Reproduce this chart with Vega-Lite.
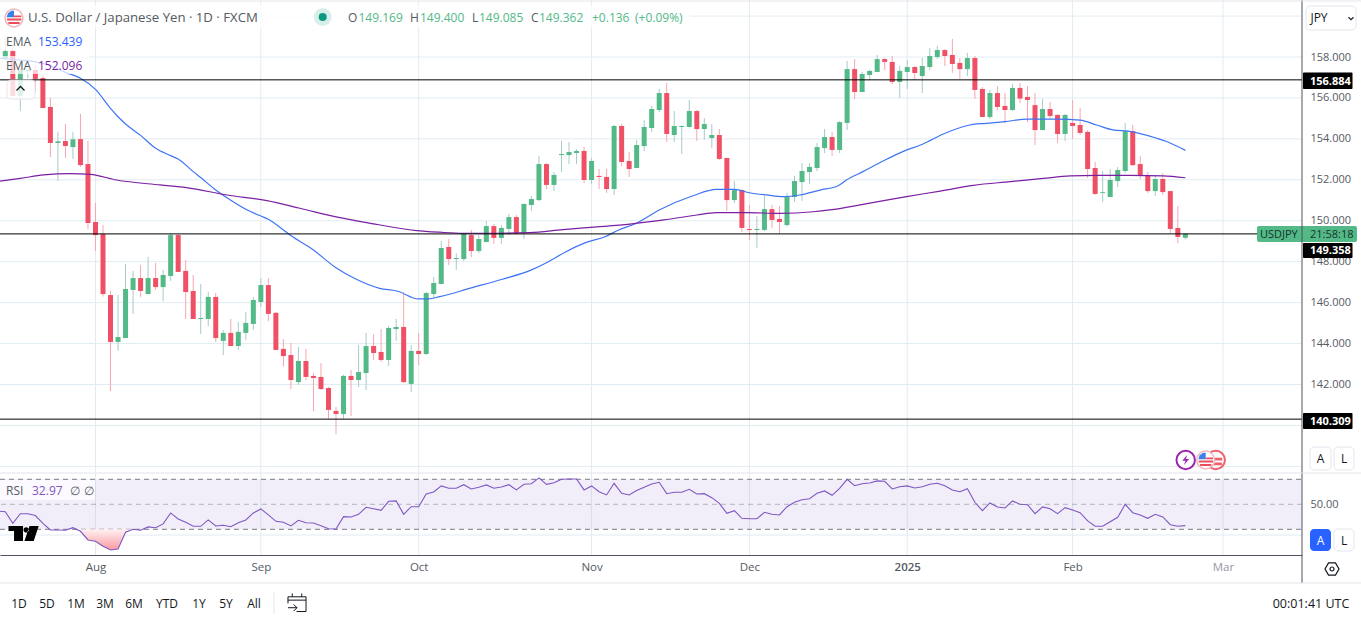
{
"$schema":"https://vega.github.io/schema/vega-lite/v6.json",
"width":1302,"height":555,
"autosize":{"type":"none"},
"padding":{"left":0,"top":0,"right":59,"bottom":66},
"background":"#ffffff",
"config":{"view":{"stroke":null},"font":"Open Sans","text":{"font":"Open Sans"}},
"datasets":{
"candles":[
{"bar":0,"open":157.90,"high":158.99,"low":157.90,"close":158.29},
{"bar":1,"open":158.29,"high":158.59,"low":156.10,"close":156.10},
{"bar":2,"open":156.10,"high":157.40,"low":155.36,"close":157.37},
{"bar":3,"open":157.30,"high":157.45,"low":156.96,"close":157.37},
{"bar":4,"open":157.37,"high":157.61,"low":156.31,"close":156.93},
{"bar":5,"open":156.97,"high":157.07,"low":155.51,"close":155.51},
{"bar":6,"open":155.56,"high":156.00,"low":153.11,"close":153.80},
{"bar":7,"open":153.80,"high":154.34,"low":151.94,"close":153.88},
{"bar":8,"open":153.90,"high":154.73,"low":153.07,"close":153.65},
{"bar":9,"open":153.60,"high":154.34,"low":153.02,"close":153.98},
{"bar":10,"open":153.99,"high":155.22,"low":152.63,"close":152.72},
{"bar":11,"open":152.77,"high":153.90,"low":149.60,"close":149.89},
{"bar":12,"open":149.94,"high":150.87,"low":148.52,"close":149.30},
{"bar":13,"open":149.35,"high":149.79,"low":146.30,"close":146.42},
{"bar":14,"open":146.37,"high":146.57,"low":141.68,"close":144.08},
{"bar":15,"open":144.08,"high":146.37,"low":143.64,"close":144.32},
{"bar":16,"open":144.27,"high":147.89,"low":144.27,"close":146.67},
{"bar":17,"open":146.62,"high":147.55,"low":145.45,"close":147.20},
{"bar":18,"open":147.20,"high":147.84,"low":146.28,"close":146.57},
{"bar":19,"open":146.42,"high":148.23,"low":146.42,"close":147.20},
{"bar":20,"open":147.20,"high":147.94,"low":146.62,"close":146.76},
{"bar":21,"open":146.76,"high":147.59,"low":146.08,"close":147.35},
{"bar":22,"open":147.30,"high":149.40,"low":147.06,"close":149.30},
{"bar":23,"open":149.30,"high":149.35,"low":147.50,"close":147.50},
{"bar":24,"open":147.55,"high":148.08,"low":145.20,"close":146.52},
{"bar":25,"open":146.57,"high":147.35,"low":145.20,"close":145.20},
{"bar":26,"open":145.20,"high":146.91,"low":144.47,"close":145.25},
{"bar":27,"open":145.20,"high":146.52,"low":144.86,"close":146.28},
{"bar":28,"open":146.28,"high":146.47,"low":144.08,"close":144.27},
{"bar":29,"open":144.13,"high":144.66,"low":143.44,"close":144.52},
{"bar":30,"open":144.52,"high":145.20,"low":143.88,"close":143.88},
{"bar":31,"open":143.88,"high":145.05,"low":143.69,"close":144.57},
{"bar":32,"open":144.52,"high":145.54,"low":144.17,"close":145.01},
{"bar":33,"open":144.96,"high":146.28,"low":144.66,"close":146.13},
{"bar":34,"open":146.03,"high":147.20,"low":145.79,"close":146.86},
{"bar":35,"open":146.86,"high":147.20,"low":145.10,"close":145.45},
{"bar":36,"open":145.50,"high":145.54,"low":143.69,"close":143.69},
{"bar":37,"open":143.74,"high":144.22,"low":142.88,"close":143.39},
{"bar":38,"open":143.44,"high":144.03,"low":141.78,"close":142.22},
{"bar":39,"open":142.12,"high":143.83,"low":141.98,"close":143.15},
{"bar":40,"open":143.15,"high":143.74,"low":142.22,"close":142.37},
{"bar":41,"open":142.42,"high":142.56,"low":140.70,"close":142.32},
{"bar":42,"open":142.37,"high":143.05,"low":141.73,"close":141.78},
{"bar":43,"open":141.83,"high":141.88,"low":140.32,"close":140.76},
{"bar":44,"open":140.71,"high":140.90,"low":139.58,"close":140.56},
{"bar":45,"open":140.56,"high":142.47,"low":140.32,"close":142.42},
{"bar":46,"open":142.42,"high":142.71,"low":140.46,"close":142.22},
{"bar":47,"open":142.22,"high":143.93,"low":141.88,"close":142.61},
{"bar":48,"open":142.56,"high":144.52,"low":141.73,"close":143.88},
{"bar":49,"open":143.88,"high":144.47,"low":143.20,"close":143.54},
{"bar":50,"open":143.59,"high":144.71,"low":143.10,"close":143.20},
{"bar":51,"open":143.20,"high":144.86,"low":142.91,"close":144.76},
{"bar":52,"open":144.71,"high":145.20,"low":144.13,"close":144.81},
{"bar":53,"open":144.81,"high":146.52,"low":142.07,"close":142.12},
{"bar":54,"open":142.03,"high":143.93,"low":141.63,"close":143.64},
{"bar":55,"open":143.64,"high":144.52,"low":142.95,"close":143.49},
{"bar":56,"open":143.49,"high":146.52,"low":143.44,"close":146.47},
{"bar":57,"open":146.42,"high":147.25,"low":146.23,"close":146.96},
{"bar":58,"open":146.91,"high":149.01,"low":146.91,"close":148.67},
{"bar":59,"open":148.72,"high":149.11,"low":147.84,"close":148.13},
{"bar":60,"open":148.13,"high":148.41,"low":147.60,"close":148.18},
{"bar":61,"open":148.13,"high":149.39,"low":148.03,"close":149.35},
{"bar":62,"open":149.30,"high":149.55,"low":148.23,"close":148.52},
{"bar":63,"open":148.52,"high":149.30,"low":148.42,"close":149.11},
{"bar":64,"open":148.96,"high":149.99,"low":148.96,"close":149.74},
{"bar":65,"open":149.74,"high":149.84,"low":148.87,"close":149.16},
{"bar":66,"open":149.16,"high":149.79,"low":148.87,"close":149.65},
{"bar":67,"open":149.60,"high":150.33,"low":149.30,"close":150.18},
{"bar":68,"open":150.18,"high":150.28,"low":149.30,"close":149.40},
{"bar":69,"open":149.40,"high":150.85,"low":149.11,"close":150.82},
{"bar":70,"open":150.77,"high":151.21,"low":150.48,"close":151.06},
{"bar":71,"open":151.01,"high":153.17,"low":150.96,"close":152.77},
{"bar":72,"open":152.77,"high":152.82,"low":151.55,"close":151.75},
{"bar":73,"open":151.75,"high":152.38,"low":151.45,"close":152.24},
{"bar":74,"open":153.21,"high":153.90,"low":152.38,"close":153.26},
{"bar":75,"open":153.21,"high":153.85,"low":152.77,"close":153.36},
{"bar":76,"open":153.31,"high":153.50,"low":152.77,"close":153.41},
{"bar":77,"open":153.41,"high":153.60,"low":151.84,"close":151.99},
{"bar":78,"open":151.99,"high":153.07,"low":151.80,"close":152.92},
{"bar":79,"open":152.19,"high":152.53,"low":151.55,"close":152.14},
{"bar":80,"open":152.14,"high":152.53,"low":151.36,"close":151.55},
{"bar":81,"open":151.55,"high":154.68,"low":151.26,"close":154.63},
{"bar":82,"open":154.63,"high":154.73,"low":152.67,"close":152.87},
{"bar":83,"open":152.92,"high":153.36,"low":152.14,"close":152.53},
{"bar":84,"open":152.58,"high":153.95,"low":152.58,"close":153.70},
{"bar":85,"open":153.65,"high":154.92,"low":153.41,"close":154.58},
{"bar":86,"open":154.53,"high":155.61,"low":154.34,"close":155.46},
{"bar":87,"open":155.41,"high":156.44,"low":155.31,"close":156.24},
{"bar":88,"open":156.24,"high":156.73,"low":153.85,"close":154.24},
{"bar":89,"open":154.19,"high":155.36,"low":153.85,"close":154.63},
{"bar":90,"open":154.58,"high":154.66,"low":153.26,"close":154.63},
{"bar":91,"open":154.58,"high":155.90,"low":154.55,"close":155.36},
{"bar":92,"open":155.36,"high":155.41,"low":153.90,"close":154.48},
{"bar":93,"open":154.48,"high":155.02,"low":153.95,"close":154.73},
{"bar":94,"open":154.04,"high":154.73,"low":153.55,"close":154.19},
{"bar":95,"open":154.19,"high":154.48,"low":152.97,"close":153.02},
{"bar":96,"open":153.07,"high":153.07,"low":150.48,"close":151.01},
{"bar":97,"open":151.01,"high":151.94,"low":150.87,"close":151.50},
{"bar":98,"open":151.50,"high":151.53,"low":149.45,"close":149.65},
{"bar":99,"open":149.60,"high":150.77,"low":149.06,"close":149.55},
{"bar":100,"open":149.55,"high":150.23,"low":148.67,"close":149.60},
{"bar":101,"open":149.55,"high":151.21,"low":149.50,"close":150.57},
{"bar":102,"open":150.57,"high":150.77,"low":149.65,"close":150.04},
{"bar":103,"open":150.09,"high":150.72,"low":149.35,"close":149.94},
{"bar":104,"open":149.79,"high":151.36,"low":149.70,"close":151.21},
{"bar":105,"open":151.16,"high":152.19,"low":150.92,"close":151.94},
{"bar":106,"open":151.89,"high":152.82,"low":150.97,"close":152.43},
{"bar":107,"open":152.38,"high":152.82,"low":151.80,"close":152.63},
{"bar":108,"open":152.58,"high":153.80,"low":152.43,"close":153.60},
{"bar":109,"open":153.55,"high":154.48,"low":153.31,"close":154.09},
{"bar":110,"open":154.09,"high":154.34,"low":153.17,"close":153.46},
{"bar":111,"open":153.46,"high":154.87,"low":153.31,"close":154.82},
{"bar":112,"open":154.78,"high":157.81,"low":154.43,"close":157.41},
{"bar":113,"open":157.41,"high":157.90,"low":155.95,"close":156.29},
{"bar":114,"open":156.29,"high":157.27,"low":156.29,"close":157.17},
{"bar":115,"open":157.12,"high":157.37,"low":156.88,"close":157.32},
{"bar":116,"open":157.27,"high":158.10,"low":157.27,"close":157.90},
{"bar":117,"open":157.90,"high":157.95,"low":157.36,"close":157.76},
{"bar":118,"open":157.76,"high":158.05,"low":156.68,"close":156.78},
{"bar":119,"open":156.78,"high":157.56,"low":155.99,"close":157.32},
{"bar":120,"open":157.27,"high":157.85,"low":156.44,"close":157.51},
{"bar":121,"open":157.51,"high":157.56,"low":156.88,"close":157.22},
{"bar":122,"open":157.07,"high":157.95,"low":156.24,"close":157.56},
{"bar":123,"open":157.51,"high":158.44,"low":157.36,"close":158.05},
{"bar":124,"open":158.00,"high":158.54,"low":157.90,"close":158.34},
{"bar":125,"open":158.34,"high":158.39,"low":157.56,"close":158.05},
{"bar":126,"open":158.10,"high":158.88,"low":157.22,"close":157.66},
{"bar":127,"open":157.71,"high":157.95,"low":156.92,"close":157.41},
{"bar":128,"open":157.41,"high":158.20,"low":157.07,"close":157.95},
{"bar":129,"open":157.95,"high":158.05,"low":155.95,"close":156.39},
{"bar":130,"open":156.44,"high":156.53,"low":155.07,"close":155.07},
{"bar":131,"open":155.07,"high":156.39,"low":154.97,"close":156.24},
{"bar":132,"open":156.24,"high":156.58,"low":155.41,"close":155.56},
{"bar":133,"open":155.61,"high":156.24,"low":154.78,"close":155.41},
{"bar":134,"open":155.41,"high":156.68,"low":155.36,"close":156.49},
{"bar":135,"open":156.49,"high":156.73,"low":155.75,"close":155.97},
{"bar":136,"open":156.05,"high":156.58,"low":154.82,"close":155.90},
{"bar":137,"open":155.65,"high":156.24,"low":153.70,"close":154.43},
{"bar":138,"open":154.43,"high":155.95,"low":154.43,"close":155.46},
{"bar":139,"open":155.46,"high":155.80,"low":155.02,"close":155.12},
{"bar":140,"open":155.17,"high":155.21,"low":153.80,"close":154.24},
{"bar":141,"open":154.24,"high":155.21,"low":153.90,"close":155.17},
{"bar":142,"open":154.78,"high":155.90,"low":153.99,"close":154.63},
{"bar":143,"open":154.68,"high":155.51,"low":154.19,"close":154.29},
{"bar":144,"open":154.34,"high":154.43,"low":152.09,"close":152.53},
{"bar":145,"open":152.58,"high":152.87,"low":151.26,"close":151.31},
{"bar":146,"open":151.36,"high":152.43,"low":150.92,"close":151.40},
{"bar":147,"open":151.16,"high":152.53,"low":151.16,"close":151.99},
{"bar":148,"open":151.94,"high":152.63,"low":151.65,"close":152.48},
{"bar":149,"open":152.43,"high":154.78,"low":152.33,"close":154.38},
{"bar":150,"open":154.38,"high":154.68,"low":152.67,"close":152.72},
{"bar":151,"open":152.77,"high":153.16,"low":152.04,"close":152.23},
{"bar":152,"open":152.19,"high":152.38,"low":151.36,"close":151.45},
{"bar":153,"open":151.45,"high":152.23,"low":151.21,"close":152.04},
{"bar":154,"open":152.04,"high":152.33,"low":151.26,"close":151.40},
{"bar":155,"open":151.45,"high":151.45,"low":149.40,"close":149.60},
{"bar":156,"open":149.65,"high":150.72,"low":148.91,"close":149.21},
{"bar":157,"open":149.169,"high":149.400,"low":149.085,"close":149.362}
],
"ema":[
{"series":"EMA 50","bar":-0.7,"value":157.94},{"series":"EMA 50","bar":2,"value":157.85},{"series":"EMA 50","bar":4,"value":157.76},{"series":"EMA 50","bar":6,"value":157.58},{"series":"EMA 50","bar":8,"value":157.25},{"series":"EMA 50","bar":10,"value":156.96},{"series":"EMA 50","bar":12,"value":156.42},{"series":"EMA 50","bar":14,"value":155.49},{"series":"EMA 50","bar":15,"value":155.08},{"series":"EMA 50","bar":16,"value":154.73},{"series":"EMA 50","bar":18,"value":154.17},{"series":"EMA 50","bar":20,"value":153.54},{"series":"EMA 50","bar":22,"value":153.18},{"series":"EMA 50","bar":23,"value":153.02},{"series":"EMA 50","bar":25,"value":152.40},{"series":"EMA 50","bar":26,"value":152.11},{"series":"EMA 50","bar":28,"value":151.50},{"series":"EMA 50","bar":30,"value":151.00},{"series":"EMA 50","bar":32,"value":150.56},{"series":"EMA 50","bar":34,"value":150.23},{"series":"EMA 50","bar":35,"value":150.07},{"series":"EMA 50","bar":37,"value":149.55},{"series":"EMA 50","bar":37.9,"value":149.30},{"series":"EMA 50","bar":41,"value":148.57},{"series":"EMA 50","bar":43.9,"value":147.73},{"series":"EMA 50","bar":46.7,"value":147.14},{"series":"EMA 50","bar":49.8,"value":146.70},{"series":"EMA 50","bar":52.1,"value":146.57},{"series":"EMA 50","bar":55,"value":146.18},{"series":"EMA 50","bar":56.3,"value":146.18},{"series":"EMA 50","bar":57.8,"value":146.29},{"series":"EMA 50","bar":62,"value":146.72},{"series":"EMA 50","bar":66,"value":147.13},{"series":"EMA 50","bar":70,"value":147.60},{"series":"EMA 50","bar":72,"value":147.95},{"series":"EMA 50","bar":74.6,"value":148.49},{"series":"EMA 50","bar":77.2,"value":148.93},{"series":"EMA 50","bar":79.8,"value":149.22},{"series":"EMA 50","bar":81.6,"value":149.55},{"series":"EMA 50","bar":83.9,"value":149.87},{"series":"EMA 50","bar":87,"value":150.53},{"series":"EMA 50","bar":91.4,"value":151.21},{"series":"EMA 50","bar":94.6,"value":151.53},{"series":"EMA 50","bar":97,"value":151.53},{"series":"EMA 50","bar":99,"value":151.37},{"series":"EMA 50","bar":101.3,"value":151.26},{"series":"EMA 50","bar":103.5,"value":151.18},{"series":"EMA 50","bar":105.7,"value":151.26},{"series":"EMA 50","bar":108.4,"value":151.50},{"series":"EMA 50","bar":110.8,"value":151.71},{"series":"EMA 50","bar":111.9,"value":151.99},{"series":"EMA 50","bar":114.1,"value":152.40},{"series":"EMA 50","bar":116.8,"value":152.92},{"series":"EMA 50","bar":119.4,"value":153.38},{"series":"EMA 50","bar":122.1,"value":153.75},{"series":"EMA 50","bar":124.8,"value":154.24},{"series":"EMA 50","bar":128.3,"value":154.68},{"series":"EMA 50","bar":130.5,"value":154.76},{"series":"EMA 50","bar":133,"value":154.84},{"series":"EMA 50","bar":135.9,"value":154.97},{"series":"EMA 50","bar":139.9,"value":154.97},{"series":"EMA 50","bar":143,"value":154.92},{"series":"EMA 50","bar":145.2,"value":154.68},{"series":"EMA 50","bar":147.5,"value":154.43},{"series":"EMA 50","bar":149.4,"value":154.38},{"series":"EMA 50","bar":153.2,"value":154.03},{"series":"EMA 50","bar":154.5,"value":153.87},{"series":"EMA 50","bar":157,"value":153.44},
{"series":"EMA 200","bar":-0.7,"value":151.94},{"series":"EMA 200","bar":2,"value":152.07},{"series":"EMA 200","bar":5.1,"value":152.24},{"series":"EMA 200","bar":8.6,"value":152.30},{"series":"EMA 200","bar":11.3,"value":152.27},{"series":"EMA 200","bar":14.8,"value":151.99},{"series":"EMA 200","bar":20.6,"value":151.75},{"series":"EMA 200","bar":24.1,"value":151.62},{"series":"EMA 200","bar":29.5,"value":151.26},{"series":"EMA 200","bar":34.8,"value":150.98},{"series":"EMA 200","bar":39.2,"value":150.61},{"series":"EMA 200","bar":44.5,"value":150.15},{"series":"EMA 200","bar":48.1,"value":149.91},{"series":"EMA 200","bar":54.7,"value":149.52},{"series":"EMA 200","bar":57.8,"value":149.44},{"series":"EMA 200","bar":60.9,"value":149.39},{"series":"EMA 200","bar":65.4,"value":149.39},{"series":"EMA 200","bar":69.8,"value":149.42},{"series":"EMA 200","bar":74.2,"value":149.57},{"series":"EMA 200","bar":78.7,"value":149.70},{"series":"EMA 200","bar":83.1,"value":149.84},{"series":"EMA 200","bar":87.6,"value":150.04},{"series":"EMA 200","bar":92,"value":150.28},{"series":"EMA 200","bar":94.6,"value":150.40},{"series":"EMA 200","bar":98.6,"value":150.40},{"series":"EMA 200","bar":103,"value":150.36},{"series":"EMA 200","bar":107.5,"value":150.44},{"series":"EMA 200","bar":109.7,"value":150.53},{"series":"EMA 200","bar":114.1,"value":150.80},{"series":"EMA 200","bar":119.9,"value":151.18},{"series":"EMA 200","bar":124.4,"value":151.45},{"series":"EMA 200","bar":128.8,"value":151.73},{"series":"EMA 200","bar":133.7,"value":151.91},{"series":"EMA 200","bar":138.1,"value":152.07},{"series":"EMA 200","bar":141.7,"value":152.19},{"series":"EMA 200","bar":145.2,"value":152.22},{"series":"EMA 200","bar":149.6,"value":152.22},{"series":"EMA 200","bar":154,"value":152.19},{"series":"EMA 200","bar":157,"value":152.10}
],
"rsi":[
{"bar":-0.7,"rsi":44.5},{"bar":0,"rsi":44.1},{"bar":1,"rsi":34.8},{"bar":2,"rsi":42.5},{"bar":3,"rsi":42.5},{"bar":4,"rsi":41.0},{"bar":5,"rsi":34.8},{"bar":6,"rsi":29.5},{"bar":7,"rsi":29.5},{"bar":8,"rsi":29.2},{"bar":9,"rsi":31.3},{"bar":10,"rsi":28.4},{"bar":11,"rsi":21.5},{"bar":12,"rsi":20.4},{"bar":13,"rsi":16.4},{"bar":14,"rsi":13.5},{"bar":15,"rsi":14.3},{"bar":16,"rsi":27.6},{"bar":17,"rsi":30.0},{"bar":18,"rsi":29.2},{"bar":19,"rsi":31.9},{"bar":20,"rsi":31.3},{"bar":21,"rsi":34.3},{"bar":22,"rsi":43.1},{"bar":23,"rsi":38.3},{"bar":24,"rsi":35.6},{"bar":25,"rsi":32.4},{"bar":26,"rsi":32.4},{"bar":27,"rsi":37.5},{"bar":28,"rsi":32.7},{"bar":29,"rsi":33.2},{"bar":30,"rsi":32.1},{"bar":31,"rsi":35.3},{"bar":32,"rsi":37.5},{"bar":33,"rsi":43.1},{"bar":34,"rsi":46.3},{"bar":35,"rsi":41.5},{"bar":36,"rsi":36.4},{"bar":37,"rsi":35.6},{"bar":38,"rsi":32.7},{"bar":39,"rsi":37.2},{"bar":40,"rsi":35.3},{"bar":41,"rsi":35.1},{"bar":42,"rsi":32.9},{"bar":43,"rsi":30.5},{"bar":44,"rsi":30.3},{"bar":45,"rsi":40.1},{"bar":46,"rsi":39.9},{"bar":47,"rsi":42.0},{"bar":48,"rsi":47.6},{"bar":49,"rsi":46.5},{"bar":50,"rsi":45.2},{"bar":51,"rsi":52.4},{"bar":52,"rsi":52.7},{"bar":53,"rsi":42.0},{"bar":54,"rsi":48.1},{"bar":55,"rsi":48.1},{"bar":56,"rsi":58.3},{"bar":57,"rsi":59.9},{"bar":58,"rsi":64.7},{"bar":59,"rsi":62.8},{"bar":60,"rsi":62.8},{"bar":61,"rsi":65.7},{"bar":62,"rsi":62.3},{"bar":63,"rsi":63.6},{"bar":64,"rsi":65.5},{"bar":65,"rsi":62.8},{"bar":66,"rsi":63.9},{"bar":67,"rsi":65.7},{"bar":68,"rsi":61.5},{"bar":69,"rsi":66.0},{"bar":70,"rsi":66.5},{"bar":71,"rsi":71.1},{"bar":72,"rsi":66.0},{"bar":73,"rsi":67.3},{"bar":74,"rsi":70.0},{"bar":75,"rsi":70.3},{"bar":76,"rsi":70.3},{"bar":77,"rsi":61.5},{"bar":78,"rsi":64.7},{"bar":79,"rsi":60.1},{"bar":80,"rsi":57.5},{"bar":81,"rsi":66.8},{"bar":82,"rsi":58.8},{"bar":83,"rsi":57.5},{"bar":84,"rsi":61.0},{"bar":85,"rsi":63.6},{"bar":86,"rsi":66.3},{"bar":87,"rsi":67.6},{"bar":88,"rsi":58.5},{"bar":89,"rsi":59.6},{"bar":90,"rsi":59.6},{"bar":91,"rsi":62.0},{"bar":92,"rsi":58.3},{"bar":93,"rsi":58.5},{"bar":94,"rsi":55.3},{"bar":95,"rsi":50.8},{"bar":96,"rsi":42.8},{"bar":97,"rsi":44.9},{"bar":98,"rsi":38.8},{"bar":99,"rsi":38.5},{"bar":100,"rsi":38.5},{"bar":101,"rsi":43.6},{"bar":102,"rsi":42.0},{"bar":103,"rsi":41.5},{"bar":104,"rsi":48.1},{"bar":105,"rsi":51.6},{"bar":106,"rsi":53.7},{"bar":107,"rsi":54.5},{"bar":108,"rsi":58.8},{"bar":109,"rsi":60.7},{"bar":110,"rsi":57.2},{"bar":111,"rsi":62.8},{"bar":112,"rsi":70.0},{"bar":113,"rsi":64.9},{"bar":114,"rsi":66.5},{"bar":115,"rsi":67.1},{"bar":116,"rsi":68.7},{"bar":117,"rsi":68.4},{"bar":118,"rsi":62.3},{"bar":119,"rsi":64.1},{"bar":120,"rsi":64.7},{"bar":121,"rsi":63.1},{"bar":122,"rsi":64.1},{"bar":123,"rsi":66.0},{"bar":124,"rsi":66.8},{"bar":125,"rsi":64.9},{"bar":126,"rsi":61.5},{"bar":127,"rsi":60.1},{"bar":128,"rsi":62.5},{"bar":129,"rsi":51.6},{"bar":130,"rsi":44.9},{"bar":131,"rsi":51.1},{"bar":132,"rsi":47.9},{"bar":133,"rsi":47.1},{"bar":134,"rsi":52.7},{"bar":135,"rsi":50.0},{"bar":136,"rsi":49.7},{"bar":137,"rsi":42.5},{"bar":138,"rsi":47.9},{"bar":139,"rsi":46.5},{"bar":140,"rsi":42.5},{"bar":141,"rsi":47.3},{"bar":142,"rsi":45.5},{"bar":143,"rsi":43.3},{"bar":144,"rsi":36.7},{"bar":145,"rsi":32.4},{"bar":146,"rsi":32.4},{"bar":147,"rsi":36.1},{"bar":148,"rsi":39.6},{"bar":149,"rsi":50.0},{"bar":150,"rsi":43.3},{"bar":151,"rsi":41.5},{"bar":152,"rsi":38.8},{"bar":153,"rsi":42.0},{"bar":154,"rsi":39.9},{"bar":155,"rsi":33.7},{"bar":156,"rsi":32.4},{"bar":157,"rsi":32.97}
],
"flags":[{"sx":14,"sy":18},{"sx":1205.7,"sy":460}]
},
"resolve":{"scale":{"x":"independent","y":"independent"}},
"layer":[
{"data":{"values":[{"level":138},{"level":140},{"level":142},{"level":144},{"level":146},{"level":148},{"level":150},{"level":152},{"level":154},{"level":156},{"level":158},{"level":160}]},
 "mark":{"type":"rule","color":"#e1ecf2","strokeWidth":1},
 "encoding":{"y":{"field":"level","type":"quantitative","scale":{"domain":[137.726,160.785],"range":[472,0],"nice":false,"zero":false},
   "axis":{"title":null,"orient":"right","values":[142,144,146,148,150,152,154,156,158],"format":".3f","grid":false,"ticks":false,"domain":false,"labelColor":"#555a63","labelFontSize":11,"labelFont":"Open Sans","labelPadding":8,"labelAlign":"left","labelOverlap":false,"labelFlush":false}}}},
{
"encoding":{"x":{"field":"bar","type":"quantitative","scale":{"domain":[-0.705,172.52],"nice":false,"zero":false,"padding":0},
 "axis":{"title":null,"values":[12,34,55,78,99,120,142,162],"labelExpr":"{'12':'Aug','34':'Sep','55':'Oct','78':'Nov','99':'Dec','120':'2025','142':'Feb','162':'Mar'}[datum.value]","grid":false,"ticks":false,"domain":true,"domainColor":"#50535e","domainWidth":1,"labelColor":{"condition":{"test":"datum.value==162","value":"#9598a1"},"value":"#555a63"},"labelFontWeight":{"condition":{"test":"datum.value==120","value":600},"value":400},"labelFontSize":11.5,"labelFont":"Open Sans","labelPadding":6,"labelFlush":false,"labelOverlap":false}}},
"layer":[
{"data":{"values":[{"bar":12,"month":"Aug"},{"bar":34,"month":"Sep"},{"bar":55,"month":"Oct"},{"bar":78,"month":"Nov"},{"bar":99,"month":"Dec"},{"bar":120,"month":"2025"},{"bar":142,"month":"Feb"},{"bar":162,"month":"Mar"}]},
 "mark":{"type":"rule","color":"#e1ecf2","strokeWidth":1},"encoding":{}},
{"data":{"name":"candles"},
 "mark":{"type":"rule","strokeWidth":1},
 "encoding":{
  "y":{"field":"high","type":"quantitative","scale":{"domain":[137.726,160.785],"range":[472,0],"nice":false,"zero":false},"axis":null},
  "y2":{"field":"low"},
  "color":{"condition":{"test":"datum.close>=datum.open","value":"#a4ccc8"},"value":"#f6a6af"}}},
{"data":{"name":"candles"},
 "mark":{"type":"bar","size":5},
 "encoding":{
  "y":{"field":"open","type":"quantitative","scale":{"domain":[137.726,160.785],"range":[472,0],"nice":false,"zero":false},"axis":null},
  "y2":{"field":"close"},
  "color":{"condition":{"test":"datum.close>=datum.open","value":"#53b987"},"value":"#ef5066"}}},
{"data":{"name":"ema"},
 "mark":{"type":"line","strokeWidth":1.2,"interpolate":"monotone"},
 "encoding":{
  "y":{"field":"value","type":"quantitative","scale":{"domain":[137.726,160.785],"range":[472,0],"nice":false,"zero":false},"axis":null},
  "color":{"field":"series","type":"nominal","scale":{"domain":["EMA 50","EMA 200"],"range":["#3f74f6","#7b1fa2"]},"legend":null}}},
{"data":{"values":[{"level":156.884},{"level":149.358},{"level":140.309}]},
 "mark":{"type":"rule","color":"#000000","strokeWidth":1},
 "encoding":{"x":{"value":0},"x2":{"value":1302},
  "y":{"field":"level","type":"quantitative","scale":{"domain":[137.726,160.785],"range":[472,0],"nice":false,"zero":false},"axis":null}}}
]
},
{
"layer":[
{"data":{"values":[{"from":-0.705,"to":172.52,"upper":70,"lower":30}]},
 "mark":{"type":"rect","color":"#7e57c2","opacity":0.1},
 "encoding":{
  "x":{"field":"from","type":"quantitative","scale":{"domain":[-0.705,172.52],"nice":false,"zero":false},"axis":null},"x2":{"field":"to"},
  "y":{"field":"upper","type":"quantitative","scale":{"domain":[10,70],"range":[554.3,479.3],"nice":false,"zero":false},"axis":null},
  "y2":{"field":"lower"}}},
{"data":{"values":[{"level":25.4}]},
 "mark":{"type":"rule","color":"#e1ecf2","strokeWidth":1},
 "encoding":{"x":{"value":0},"x2":{"value":1302},"y":{"field":"level","type":"quantitative","scale":{"domain":[10,70],"range":[554.3,479.3],"nice":false,"zero":false},"axis":null}}},
{"data":{"values":[{"level":70},{"level":30}]},
 "mark":{"type":"rule","color":"#787b86","strokeWidth":1,"strokeDash":[5,4]},
 "encoding":{"x":{"value":0},"x2":{"value":1302},"y":{"field":"level","type":"quantitative","scale":{"domain":[10,70],"range":[554.3,479.3],"nice":false,"zero":false},"axis":null}}},
{"data":{"name":"rsi"},
 "transform":[{"filter":"datum.bar>=10&&datum.bar<=17"}],
 "mark":{"type":"area","color":{"x1":0,"y1":0,"x2":0,"y2":1,"gradient":"linear","stops":[{"offset":0,"color":"#fff1f2"},{"offset":1,"color":"#f89aa2"}]}},
 "encoding":{"x":{"field":"bar","type":"quantitative","scale":{"domain":[-0.705,172.52],"nice":false,"zero":false},"axis":null},
  "y":{"field":"rsi","type":"quantitative","scale":{"domain":[10,70],"range":[554.3,479.3],"nice":false,"zero":false},"axis":null},"y2":{"datum":30}}},
{"data":{"name":"rsi"},
 "mark":{"type":"line","color":"#7e57c2","strokeWidth":1.1},
 "encoding":{"x":{"field":"bar","type":"quantitative","scale":{"domain":[-0.705,172.52],"nice":false,"zero":false},"axis":null},
  "y":{"field":"rsi","type":"quantitative","scale":{"domain":[10,70],"range":[554.3,479.3],"nice":false,"zero":false},"axis":null}}}
]
},
{"data":{"values":[{"level":50}]},
 "mark":{"type":"rule","color":"#787b86","strokeWidth":1,"strokeDash":[5,4],"opacity":0.5},
 "encoding":{"y":{"field":"level","type":"quantitative","scale":{"domain":[10,70],"range":[554.3,479.3],"nice":false,"zero":false},
   "axis":{"title":null,"orient":"right","values":[50],"format":".2f","grid":false,"ticks":false,"domain":false,"labelColor":"#555a63","labelFontSize":11,"labelFont":"Open Sans","labelPadding":8,"labelAlign":"left","labelFlush":false}}}},
{
"encoding":{
 "x":{"field":"sx","type":"quantitative","scale":{"domain":[0,1361],"range":[0,1361],"nice":false,"zero":false},"axis":null},
 "y":{"field":"sy","type":"quantitative","scale":{"domain":[0,621],"range":[0,621],"nice":false,"zero":false},"axis":null}},
"layer":[
{"data":{"values":[{"sx":0,"sx2":690,"sy":5,"sy2":28},{"sx":0,"sx2":90,"sy":32,"sy2":50},{"sx":0,"sx2":90,"sy":56,"sy2":74},{"sx":0,"sx2":95,"sy":480,"sy2":500}]},
 "mark":{"type":"rect","color":"#ffffff","opacity":0.72},
 "encoding":{"x2":{"field":"sx2"},"y2":{"field":"sy2"}}},
{"data":{"values":[{"sx":7,"sx2":35,"sy":80,"sy2":99},{"sx":1306,"sx2":1356,"sy":6,"sy2":30},{"sx":1310,"sx2":1331,"sy":447,"sy2":470},{"sx":1334,"sx2":1354,"sy":447,"sy2":470},{"sx":1334,"sx2":1354,"sy":529,"sy2":551}]},
 "mark":{"type":"rect","fill":"#ffffff","fillOpacity":0.8,"stroke":"#e4e6ec","strokeWidth":1,"cornerRadius":4},
 "encoding":{"x2":{"field":"sx2"},"y2":{"field":"sy2"}}},
{"data":{"values":[{"sx":1310,"sx2":1331,"sy":529,"sy2":551}]},
 "mark":{"type":"rect","color":"#2962ff","cornerRadius":4},
 "encoding":{"x2":{"field":"sx2"},"y2":{"field":"sy2"}}},
{"data":{"values":[{"sx":1257,"sx2":1357,"sy":226,"sy2":242}]},
 "mark":{"type":"rect","color":"#53b987","cornerRadius":2},
 "encoding":{"x2":{"field":"sx2"},"y2":{"field":"sy2"}}},
{"data":{"values":[{"sx":1303,"sx2":1352.5,"sy":72.5,"sy2":89},{"sx":1303,"sx2":1352.5,"sy":243,"sy2":258},{"sx":1303,"sx2":1352.5,"sy":413,"sy2":429}]},
 "mark":{"type":"rect","color":"#000000","cornerRadius":1},
 "encoding":{"x2":{"field":"sx2"},"y2":{"field":"sy2"}}},
{"data":{"values":[{"sx":1302,"sx2":1302,"sy":0,"sy2":583}]},
 "mark":{"type":"rule","color":"#50535e","strokeWidth":1},"encoding":{"x2":{"field":"sx2"},"y2":{"field":"sy2"}}},
{"data":{"values":[{"sx":0,"sx2":1361,"sy":1,"sy2":1},{"sx":0,"sx2":1361,"sy":473,"sy2":473},{"sx":0,"sx2":1361,"sy":583,"sy2":583},{"sx":274,"sx2":274,"sy":592,"sy2":614}]},
 "mark":{"type":"rule","color":"#e3e5ea","strokeWidth":1},"encoding":{"x2":{"field":"sx2"},"y2":{"field":"sy2"}}},
{"data":{"values":[{"label":"U.S. Dollar / Japanese Yen · 1D · FXCM","sx":28,"sy":17}]},
 "mark":{"type":"text","align":"left","baseline":"middle","dy":0.7,"fontSize":13.2,"color":"#555a63","font":"Open Sans"},"encoding":{"text":{"field":"label"}}},
{"data":{"values":[{"label":"O","sx":348,"sy":17},{"label":"H","sx":410,"sy":17},{"label":"L","sx":472,"sy":17},{"label":"C","sx":531,"sy":17},{"label":"EMA","sx":6,"sy":41},{"label":"EMA","sx":6,"sy":65},{"label":"RSI","sx":6,"sy":490},{"label":"∅","sx":83.5,"sy":490},{"label":"∅","sx":70,"sy":490}]},
 "mark":{"type":"text","align":"left","baseline":"middle","dy":0.7,"fontSize":12,"color":"#555a63","font":"Open Sans"},"encoding":{"text":{"field":"label"}}},
{"data":{"values":[{"label":"149.169","sx":358.5,"sy":17},{"label":"149.400","sx":420,"sy":17},{"label":"149.085","sx":479,"sy":17},{"label":"149.362","sx":539,"sy":17},{"label":"+0.136","sx":592,"sy":17},{"label":"(+0.09%)","sx":635,"sy":17}]},
 "mark":{"type":"text","align":"left","baseline":"middle","dy":0.7,"fontSize":12,"color":"#53b987","font":"Open Sans"},"encoding":{"text":{"field":"label"}}},
{"data":{"values":[{"label":"153.439","sx":38,"sy":41}]},
 "mark":{"type":"text","align":"left","baseline":"middle","dy":0.7,"fontSize":12,"color":"#2962ff","font":"Open Sans"},"encoding":{"text":{"field":"label"}}},
{"data":{"values":[{"label":"152.096","sx":38,"sy":65}]},
 "mark":{"type":"text","align":"left","baseline":"middle","dy":0.7,"fontSize":12,"color":"#7b1fa2","font":"Open Sans"},"encoding":{"text":{"field":"label"}}},
{"data":{"values":[{"label":"32.97","sx":32,"sy":490}]},
 "mark":{"type":"text","align":"left","baseline":"middle","dy":0.7,"fontSize":12,"color":"#7e57c2","font":"Open Sans"},"encoding":{"text":{"field":"label"}}},
{"data":{"values":[{"label":"156.884","sx":1310,"sy":81},{"label":"149.358","sx":1310,"sy":250.5},{"label":"140.309","sx":1310,"sy":421}]},
 "mark":{"type":"text","align":"left","baseline":"middle","dy":0.5,"fontSize":11,"fontWeight":700,"color":"#ffffff","font":"Open Sans"},"encoding":{"text":{"field":"label"}}},
{"data":{"values":[{"label":"USDJPY","sx":1260,"sy":234.5},{"label":"21:58:18","sx":1310,"sy":234.5}]},
 "mark":{"type":"text","align":"left","baseline":"middle","dy":0.5,"fontSize":11,"color":"#14332a","font":"Open Sans"},"encoding":{"text":{"field":"label"}}},
{"data":{"values":[{"label":"JPY","sx":1319,"sy":17},{"label":"A","sx":1320.5,"sy":458},{"label":"L","sx":1344,"sy":458},{"label":"L","sx":1344,"sy":540},{"label":"1D","sx":19,"sy":603},{"label":"5D","sx":47,"sy":603},{"label":"1M","sx":76,"sy":603},{"label":"3M","sx":105,"sy":603},{"label":"6M","sx":134,"sy":603},{"label":"YTD","sx":167,"sy":603},{"label":"1Y","sx":199,"sy":603},{"label":"5Y","sx":226,"sy":603},{"label":"All","sx":254,"sy":603}]},
 "mark":{"type":"text","align":"center","baseline":"middle","dy":0.7,"fontSize":12,"color":"#131722","font":"Open Sans"},"encoding":{"text":{"field":"label"}}},
{"data":{"values":[{"label":"A","sx":1320.5,"sy":540}]},
 "mark":{"type":"text","align":"center","baseline":"middle","dy":0.7,"fontSize":12,"color":"#ffffff","font":"Open Sans"},"encoding":{"text":{"field":"label"}}},
{"data":{"values":[{"label":"00:01:41 UTC","sx":1311,"sy":603}]},
 "mark":{"type":"text","align":"center","baseline":"middle","dy":0.7,"fontSize":12.5,"color":"#131722","font":"Open Sans"},"encoding":{"text":{"field":"label"}}},
{"data":{"values":[{"sx":322.7,"sy":17}]},"mark":{"type":"point","shape":"circle","filled":true,"opacity":1,"color":"#d8efe9","size":324},"encoding":{}},
{"data":{"values":[{"sx":322.7,"sy":17}]},"mark":{"type":"point","shape":"circle","filled":true,"opacity":1,"color":"#089981","size":64},"encoding":{}},
{"data":{"values":[{"sx":1215.7,"sy":460}]},"mark":{"type":"point","shape":"circle","filled":true,"opacity":1,"fill":"#ffffff","stroke":"#f0606c","strokeWidth":2,"size":340},"encoding":{}},
{"data":{"values":[{"sx":1215.7,"sy":460}]},"mark":{"type":"point","shape":"M-0.75 -0.25H0.75V0.05H-0.75ZM-0.72 0.3H0.72V0.6H-0.72Z","filled":true,"opacity":1,"color":"#f0606c","size":300},"encoding":{}},
{"data":{"name":"flags"},"mark":{"type":"point","shape":"circle","filled":true,"opacity":1,"fill":"#ffffff","stroke":"#f0b8bd","strokeWidth":1.5,"size":320},"encoding":{}},
{"data":{"name":"flags"},"mark":{"type":"point","shape":"M-0.8 0.05H0.85V0.3H-0.8ZM-0.65 0.45H0.65V0.7H-0.65ZM0 -0.3H0.85V-0.1H0Z","filled":true,"opacity":1,"color":"#ee4d5c","size":300},"encoding":{}},
{"data":{"name":"flags"},"mark":{"type":"point","shape":"M-0.85 -0.1L-0.7 -0.55L-0.3 -0.85H0V-0.1Z","filled":true,"opacity":1,"color":"#3d7fe8","size":300},"encoding":{}},
{"data":{"values":[{"sx":1185.7,"sy":460}]},"mark":{"type":"point","shape":"circle","filled":true,"opacity":1,"fill":"#ffffff","stroke":"#9c27b0","strokeWidth":2,"size":340},"encoding":{}},
{"data":{"values":[{"sx":1185.7,"sy":460}]},"mark":{"type":"point","shape":"M0.3 -1L-0.7 0.15H-0.05L-0.35 1L0.7 -0.2H0.05Z","filled":true,"opacity":1,"color":"#9c27b0","size":100},"encoding":{}},
{"data":{"values":[{"sx":23.5,"sy":533.5}]},"mark":{"type":"point","shape":"M-0.97 -0.48H-0.03V0.48H-0.61V-0.16H-0.97ZM0.39 -0.48H0.98L0.66 0.48H0.06ZM0 -0.23A0.17 0.17 0 1 0 0.34 -0.23A0.17 0.17 0 1 0 0 -0.23Z","filled":true,"opacity":1,"color":"#000000","size":961},"encoding":{}},
{"data":{"values":[{"sx":20.5,"sy":88.5}]},"mark":{"type":"point","shape":"M-1 0.5L0 -0.5L1 0.5","filled":false,"opacity":1,"color":"#131722","strokeWidth":1.3,"size":64},"encoding":{}},
{"data":{"values":[{"sx":1351,"sy":18.5}]},"mark":{"type":"point","shape":"M-1 -0.5L0 0.5L1 -0.5","filled":false,"opacity":1,"color":"#131722","strokeWidth":1.1,"size":25},"encoding":{}},
{"data":{"values":[{"sx":297,"sy":602.5}]},"mark":{"type":"point","shape":"M-0.95 0.1V-0.6H0.95V0.95H-0.05M-0.95 -0.25H0.95M-0.5 -0.95V-0.6M0.5 -0.95V-0.6M-0.95 0.55H0M-0.35 0.2L0 0.55L-0.35 0.9","filled":false,"opacity":1,"color":"#131722","strokeWidth":1,"size":361},"encoding":{}},
{"data":{"values":[{"sx":1332,"sy":569}]},"mark":{"type":"point","shape":"M-0.5 -0.87H0.5L1 0L0.5 0.87H-0.5L-1 0Z","filled":false,"opacity":1,"color":"#131722","strokeWidth":1.2,"size":196},"encoding":{}},
{"data":{"values":[{"sx":1332,"sy":569}]},"mark":{"type":"point","shape":"circle","filled":false,"opacity":1,"color":"#131722","strokeWidth":1.2,"size":16},"encoding":{}}
]
}
]
}
